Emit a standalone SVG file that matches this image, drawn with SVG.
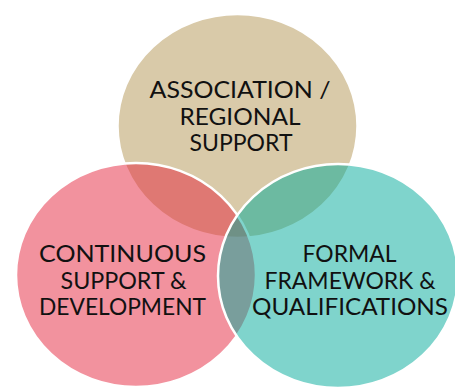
<svg xmlns="http://www.w3.org/2000/svg" width="455" height="388" viewBox="0 0 455 388">
<style>
  .c { stroke: #ffffff; stroke-width: 2.5; fill-opacity: 0.5; }
  .t { font-family: "Lato", "Liberation Sans", sans-serif; font-size: 23px; fill: #111111; text-anchor: middle; }
</style>
<rect width="455" height="388" fill="#ffffff"/>
<g id="node-association">
  <ellipse class="c" cx="237.5" cy="126" rx="120" ry="112" fill="rgb(179,149,83)"/>
</g>
<g id="node-continuous">
  <ellipse class="c" cx="136" cy="275" rx="120" ry="112" fill="rgb(229,37,61)"/>
</g>
<g id="node-formal">
  <ellipse class="c" cx="338" cy="276" rx="120" ry="112" fill="rgb(0,169,153)"/>
</g>
<g id="labels">
  <text class="t" x="240" y="98" textLength="181" lengthAdjust="spacingAndGlyphs">ASSOCIATION /</text>
  <text class="t" x="240" y="124.5" textLength="121" lengthAdjust="spacingAndGlyphs">REGIONAL</text>
  <text class="t" x="241" y="151" textLength="103" lengthAdjust="spacingAndGlyphs">SUPPORT</text>
  <text class="t" x="122.5" y="262" textLength="167" lengthAdjust="spacingAndGlyphs">CONTINUOUS</text>
  <text class="t" x="123.5" y="288.5" textLength="126" lengthAdjust="spacingAndGlyphs">SUPPORT &amp;</text>
  <text class="t" x="122.5" y="315" textLength="167" lengthAdjust="spacingAndGlyphs">DEVELOPMENT</text>
  <text class="t" x="349.5" y="262" textLength="94" lengthAdjust="spacingAndGlyphs">FORMAL</text>
  <text class="t" x="350" y="288.5" textLength="171" lengthAdjust="spacingAndGlyphs">FRAMEWORK &amp;</text>
  <text class="t" x="350" y="315" textLength="196" lengthAdjust="spacingAndGlyphs">QUALIFICATIONS</text>
</g>
<g id="connectors"></g>
</svg>
